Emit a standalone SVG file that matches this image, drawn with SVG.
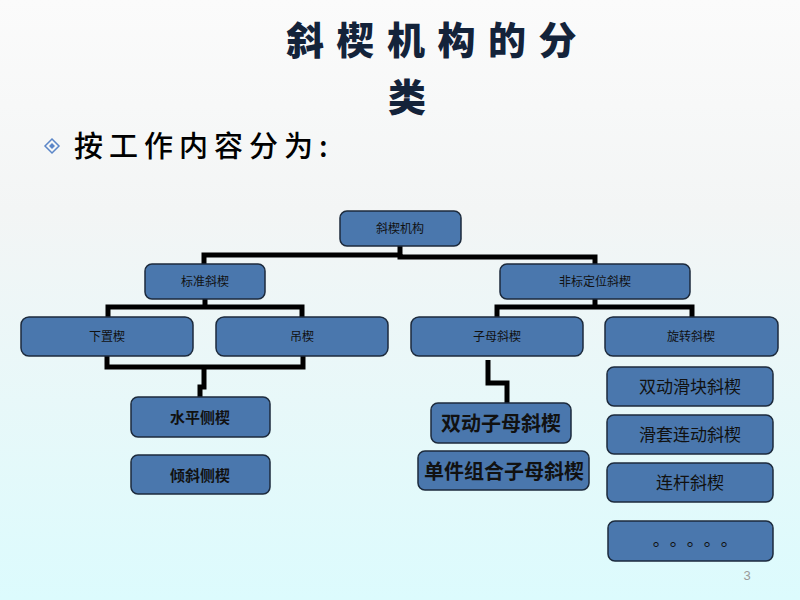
<svg xmlns="http://www.w3.org/2000/svg" width="800" height="600" viewBox="0 0 800 600">
<defs>
<linearGradient id="bg" x1="0" y1="0" x2="0" y2="1">
<stop offset="0" stop-color="#fbfbfb"/>
<stop offset="0.35" stop-color="#f3f5f5"/>
<stop offset="1" stop-color="#dcfbfd"/>
</linearGradient>
<style>
.box{fill:#4a77ad;stroke:#1c2a3c;stroke-width:1.5}
.t{font-family:"Noto Sans CJK SC","Microsoft YaHei",sans-serif;fill:#111;text-anchor:middle}
.s{font-size:12px}
.b{font-weight:bold}
.c{fill:none;stroke:#000;stroke-width:5;stroke-linejoin:miter;stroke-linecap:butt}
</style>
</defs>
<rect width="800" height="600" fill="url(#bg)"/>
<g id="title">
<text x="286" y="54" font-family="'Noto Sans CJK SC',sans-serif" font-weight="900" font-size="38" letter-spacing="12.5" fill="#14233a">斜楔机构的分</text>
<text x="407" y="111" text-anchor="middle" font-family="'Noto Sans CJK SC',sans-serif" font-weight="900" font-size="38" fill="#14233a">类</text>
</g>
<g id="subtitle">
<path d="M52 139 L59 146 L52 153 L45 146 Z" fill="none" stroke="#5b86c8" stroke-width="1.5"/>
<path d="M52 143 L55 146 L52 149 L49 146 Z" fill="#5b86c8"/>
<text x="74" y="157" font-family="'Noto Sans CJK SC',sans-serif" font-weight="500" font-size="29" letter-spacing="6" fill="#000">按工作内容分为:</text>
</g>
<g id="connectors">
<path class="c" d="M204 264 V255 H400 V246"/>
<path class="c" d="M400 254 V257 H595 V264"/>
<path class="c" d="M205 299 V307 M108 317 V307 H302 V317"/>
<path class="c" d="M595 299 V307 M497 317 V307 H692 V317"/>
<path class="c" d="M107 356 V367 H303 V356 M204 367 V387 H200 V397"/>
<path class="c" d="M488 360 V383 H507 V403"/>
</g>
<g id="n-root"><rect class="box" x="340" y="211" width="121" height="35" rx="7"/><text class="t s" x="400" y="233">斜楔机构</text></g>
<g id="n-std"><rect class="box" x="145" y="264" width="120" height="35" rx="7"/><text class="t s" x="205" y="286">标准斜楔</text></g>
<g id="n-nonstd"><rect class="box" x="500" y="264" width="190" height="35" rx="7"/><text class="t s" x="595" y="286">非标定位斜楔</text></g>
<g id="n-xiazhi"><rect class="box" x="21" y="317" width="172" height="39" rx="8"/><text class="t s" x="107" y="341">下置楔</text></g>
<g id="n-diao"><rect class="box" x="216" y="317" width="172" height="39" rx="8"/><text class="t s" x="302" y="341">吊楔</text></g>
<g id="n-zimu"><rect class="box" x="411" y="317" width="172" height="39" rx="8"/><text class="t s" x="497" y="341">子母斜楔</text></g>
<g id="n-xuanzhuan"><rect class="box" x="605" y="317" width="173" height="39" rx="8"/><text class="t s" x="691" y="341">旋转斜楔</text></g>
<g id="n-shuiping"><rect class="box" x="131" y="397" width="139" height="40" rx="7"/><text class="t b" x="200" y="423" font-size="15">水平侧楔</text></g>
<g id="n-qingxie"><rect class="box" x="131" y="455" width="139" height="39" rx="7"/><text class="t b" x="200" y="481" font-size="15">倾斜侧楔</text></g>
<g id="n-shuangdongzimu"><rect class="box" x="431" y="403" width="140" height="40" rx="7"/><text class="t b" x="501" y="431" font-size="20">双动子母斜楔</text></g>
<g id="n-danjian"><rect class="box" x="418" y="451" width="171" height="39" rx="7"/><text class="t b" x="504" y="479" font-size="20">单件组合子母斜楔</text></g>
<g id="n-huakuai"><rect class="box" x="607" y="367" width="166" height="39" rx="7"/><text class="t" x="690" y="393" font-size="17">双动滑块斜楔</text></g>
<g id="n-huatao"><rect class="box" x="607" y="415" width="166" height="39" rx="7"/><text class="t" x="690" y="441" font-size="17">滑套连动斜楔</text></g>
<g id="n-liangan"><rect class="box" x="607" y="463" width="166" height="39" rx="7"/><text class="t" x="690" y="489" font-size="17">连杆斜楔</text></g>
<g id="n-etc"><rect class="box" x="608" y="521" width="165" height="40" rx="7"/><text x="690" y="551" text-anchor="middle" font-family="'Noto Sans CJK TC','Noto Sans CJK KR',sans-serif" font-size="17" fill="#111">。。。。。</text></g>
<text x="747" y="580" font-family="'Liberation Sans',sans-serif" font-size="13" fill="#9a9a9a" text-anchor="middle">3</text>
</svg>
